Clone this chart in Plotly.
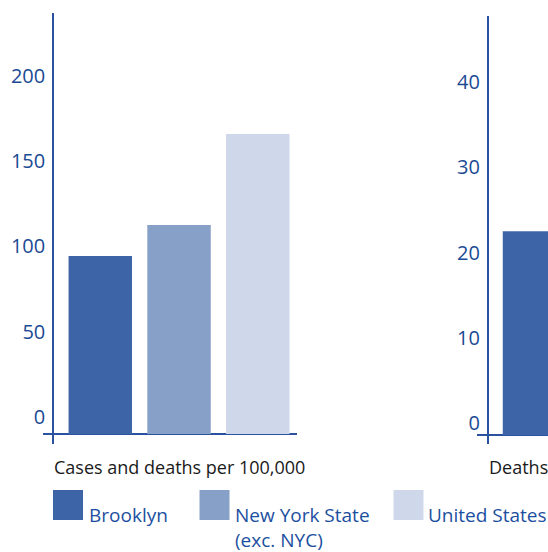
import plotly.graph_objects as go

# ---- data ----
series = ["Brooklyn", "New York State (exc. NYC)", "United States"]
legend_labels = ["Brooklyn", "New York State<br>(exc. NYC)", "United States"]
cases_per_100k = [104.4, 122.6, 176.0]
deaths_series = ["Brooklyn"]
deaths_values = [23.9]
panel_titles = ["Cases and deaths per 100,000", "Deaths"]
left_ticks = [0, 50, 100, 150, 200]
right_ticks = [0, 10, 20, 30, 40]

colors = ["#3d64a7", "#87a0c8", "#cfd8ea"]
AXIS = "#2a52a0"
TICK = "#1b4a94"
W, H = 548, 552
FONT = "Open Sans"


def px(x):
    return x / W


def py(y):
    return 1 - y / H


fig = go.Figure()
fig.add_trace(go.Bar(x=series, y=cases_per_100k, marker_color=colors,
                     marker_line_width=0, xaxis="x", yaxis="y", showlegend=False))
fig.add_trace(go.Bar(x=deaths_series, y=deaths_values, marker_color=colors[:1],
                     marker_line_width=0, xaxis="x2", yaxis="y2", showlegend=False))

common_y = dict(showgrid=False, zeroline=True, zerolinecolor=AXIS, zerolinewidth=2,
                showline=True, linecolor=AXIS, linewidth=1.5, ticks="",
                tickfont=dict(family=FONT, size=20, color=TICK), anchor="free")
common_x = dict(showgrid=False, zeroline=False, showline=False, showticklabels=False,
                ticks="", type="category", categoryorder="array", categoryarray=series)

fig.update_layout(
    width=W, height=H, autosize=False,
    margin=dict(l=0, r=0, t=0, b=0),
    paper_bgcolor="white", plot_bgcolor="white",
    bargap=0.194,
    showlegend=False,
    xaxis=dict(domain=[px(43), px(297)], range=[-0.7276, 2.498], anchor="y", **common_x),
    yaxis=dict(domain=[py(444), py(13)], range=[-5.865, 246.9], position=px(53),
               tickvals=left_ticks, ticklabelshift=-17, ticklabelstandoff=3, **common_y),
    xaxis2=dict(domain=[px(477), 1.0], range=[-0.730, 0.171], anchor="y2", **common_x),
    yaxis2=dict(domain=[py(444), py(16)], range=[-1.056, 49.15], position=px(487.7),
                tickvals=right_ticks, ticklabelshift=-12, ticklabelstandoff=3, **common_y),
)

annotations = []
for txt, x in zip(panel_titles, [52, 487]):
    annotations.append(dict(text=txt, x=px(x), y=py(467), xref="paper", yref="paper",
                            xanchor="left", yanchor="middle", showarrow=False,
                            font=dict(family=FONT, size=18, color="#1a1a1a")))

shapes = []
sw_x = [53, 199.5, 393.5]
txt_x = [87, 233, 426]
for lab, c, sx, tx in zip(legend_labels, colors, sw_x, txt_x):
    shapes.append(dict(type="rect", xref="paper", yref="paper", x0=px(sx), x1=px(sx + 30),
                       y0=py(520), y1=py(490), fillcolor=c, line=dict(width=0)))
    annotations.append(dict(text=lab, x=px(tx), y=py(500), xref="paper", yref="paper",
                            xanchor="left", yanchor="top", align="left", showarrow=False,
                            font=dict(family=FONT, size=19, color="#1c4fa0")))

fig.update_layout(annotations=annotations, shapes=shapes)
fig.write_html("out.html", config={"displayModeBar": False},
               post_script="document.body.style.margin='0px';document.body.style.overflow='hidden';")
